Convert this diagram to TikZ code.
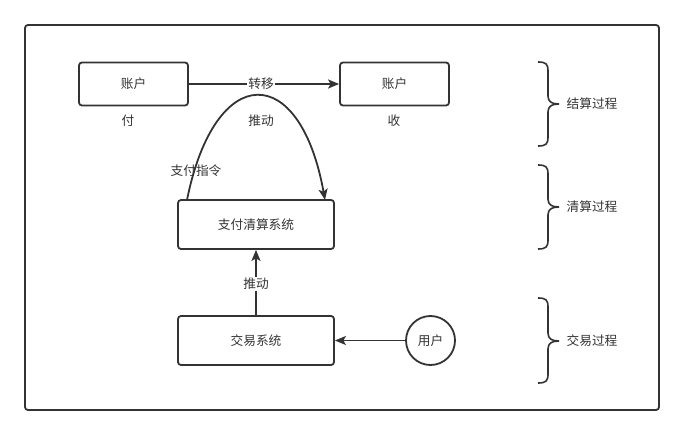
\documentclass[tikz,border=0pt]{standalone}
\usepackage{fontspec}
\newfontfamily\cjk{Noto Sans CJK SC}
\usetikzlibrary{arrows.meta}
\definecolor{ink}{HTML}{333333}
\begin{document}
\begin{tikzpicture}[x=1pt,y=-1pt,
  every node/.style={font=\cjk\fontsize{12.7}{14}\selectfont, text=ink},
  box/.style={draw=ink, line width=1.8pt, rounded corners=3pt, inner sep=0pt},
  conn/.style={draw=ink, line width=1.8pt, -{Stealth[length=11pt,width=9pt,inset=2.5pt]}},
  brc/.style={draw=ink, line width=1.6pt},
  lbl/.style={inner sep=1pt}]
\useasboundingbox (0,0) rectangle (684,435);
\draw[draw=ink, line width=1.8pt, rounded corners=3pt] (25,25) rectangle (659,410);

\node[box, minimum width=109pt, minimum height=43pt] (a1) at (133.5,84) {账户};
\node[box, minimum width=109pt, minimum height=43pt] (a2) at (394.5,84) {账户};
\node[lbl] (fu) at (128,121) {付};
\node[lbl] (shou) at (394,121) {收};

\node[box, minimum width=156pt, minimum height=49pt] (qs) at (256,224.5) {支付清算系统};
\node[box, minimum width=156pt, minimum height=49pt] (jy) at (256,340.5) {交易系统};
\node[draw=ink, line width=1.8pt, circle, minimum size=49pt, inner sep=0pt] (yh) at (430.5,340.5) {用户};

\draw[conn] (a1.east) -- (a2.west) node[lbl, pos=0.48, fill=white] (zy) {转移};

\coordinate (cs) at (187,200);
\coordinate (ce) at (325,200);
\draw[conn] (cs) .. controls (215,61) and (300,61) .. (ce);
\node[lbl] (td1) at (261,121) {推动};
\node[lbl] (zf) at (196,171) {支付指令};

\draw[conn] (jy.north) -- (qs.south) node[lbl, pos=0.48, fill=white] (td2) {推动};
\draw[conn] (yh.west) -- (jy.east);

% braces
\foreach \t/\m/\b in {62/104/146, 165/207/249, 298/341/383}{
  \draw[brc] (538,\t) .. controls (546,\t) and (548,\t+2) .. (548,\t+9)
    -- (548,\m-8) .. controls (548,\m-2) and (552,\m) .. (559,\m)
    .. controls (552,\m) and (548,\m+2) .. (548,\m+8)
    -- (548,\b-9) .. controls (548,\b-2) and (546,\b) .. (538,\b);
}
\node[lbl] (js) at (592,104) {结算过程};
\node[lbl] (qsgc) at (592,207) {清算过程};
\node[lbl] (jygc) at (592,341) {交易过程};
\end{tikzpicture}
\end{document}
